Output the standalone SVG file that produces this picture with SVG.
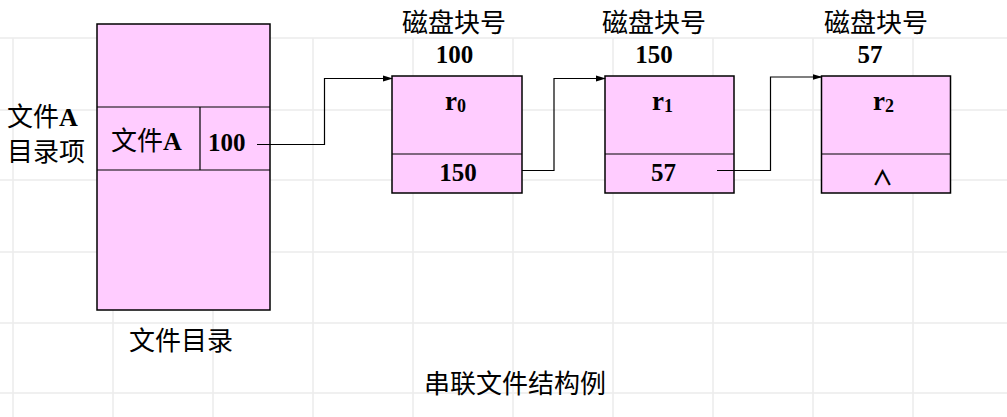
<svg xmlns="http://www.w3.org/2000/svg" width="1007" height="417" viewBox="0 0 1007 417">
<style>
.grid{stroke:#ececec;stroke-width:1.5;fill:none}
.box{fill:#ffccff;stroke:#000;stroke-width:1.5}
.ln{stroke:#000;stroke-width:1.2;fill:none}
.cn{font-family:"Liberation Serif","Noto Sans CJK SC",serif;font-size:26px;fill:#000}
.num{font-family:"Liberation Serif","Noto Sans CJK SC",serif;font-size:25px;font-weight:bold;fill:#000}
.r{font-size:27px}
.sub{font-size:18px}
.and{font-family:"Noto Sans CJK SC",sans-serif;font-size:21px;font-weight:bold;fill:#000}
</style>
<defs>
<marker id="arr" markerWidth="10" markerHeight="8" refX="9" refY="4" orient="auto" markerUnits="userSpaceOnUse">
<path d="M0,1 L10,4 L0,7 Z" fill="#000"/>
</marker>
</defs>
<rect width="1007" height="417" fill="#fff"/>
<g id="grid" class="grid">
<path d="M0,38H1007M0,110H1007M0,180H1007M0,252H1007M0,323H1007M0,393H1007"/>
<path d="M13,38V417M113,38V417M213,38V417M313,38V417M413,38V417M513,38V417M613,38V417M713,38V417M813,38V417M913,38V417"/>
</g>
<g id="directory">
<rect class="box" x="97" y="24" width="173" height="286"/>
<path class="ln" d="M97,107H270M97,170H270M200,107V170"/>
<text class="cn" x="111" y="150">文件<tspan font-weight="bold">A</tspan></text>
<text class="num" x="208" y="151">100</text>
</g>
<g id="dir-labels">
<text class="cn" x="7" y="126">文件<tspan font-weight="bold">A</tspan></text>
<text class="cn" x="7" y="161">目录项</text>
<text class="cn" x="129" y="350">文件目录</text>
<text class="cn" x="424" y="393">串联文件结构例</text>
</g>
<g id="block100">
<text class="cn" x="402" y="32">磁盘块号</text>
<text class="num" x="454.5" y="63" text-anchor="middle">100</text>
<rect class="box" x="392" y="76" width="130" height="117"/>
<path class="ln" d="M392,154H522"/>
<text class="num r" x="445" y="110">r<tspan class="sub" dy="2">0</tspan></text>
<text class="num" x="458" y="181" text-anchor="middle">150</text>
</g>
<g id="block150">
<text class="cn" x="602" y="32">磁盘块号</text>
<text class="num" x="654" y="63" text-anchor="middle">150</text>
<rect class="box" x="605" y="76" width="129" height="117"/>
<path class="ln" d="M605,154H734"/>
<text class="num r" x="652" y="110">r<tspan class="sub" dy="2">1</tspan></text>
<text class="num" x="663.5" y="181" text-anchor="middle">57</text>
</g>
<g id="block57">
<text class="cn" x="824" y="32">磁盘块号</text>
<text class="num" x="870" y="63" text-anchor="middle">57</text>
<rect class="box" x="821.5" y="76" width="129" height="117"/>
<path class="ln" d="M821.5,154H950.5"/>
<text class="num r" x="873" y="110">r<tspan class="sub" dy="2">2</tspan></text>
<text class="and" x="882.5" y="185" text-anchor="middle">∧</text>
</g>
<g id="connectors" class="ln">
<polyline points="257,144.5 324.5,144.5 324.5,78.5 392,78.5" marker-end="url(#arr)"/>
<polyline points="522,170.5 554,170.5 554,78.5 605,78.5" marker-end="url(#arr)"/>
<polyline points="717,170.5 770.5,170.5 770.5,77 821.5,77" marker-end="url(#arr)"/>
</g>
</svg>
